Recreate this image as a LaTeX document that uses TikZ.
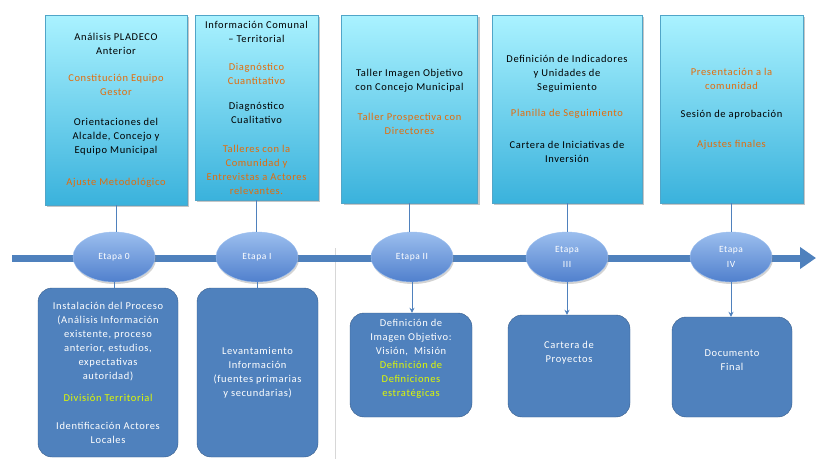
\documentclass[tikz,border=0pt]{standalone}
\usepackage{fontspec}
\setmainfont{Carlito}[LetterSpace=6]
\usetikzlibrary{arrows.meta,shapes.geometric,shadows}
\definecolor{barblue}{RGB}{79,129,189}
\definecolor{boxedge}{RGB}{56,93,138}
\definecolor{cyantop}{RGB}{170,242,255}
\definecolor{cyanbot}{RGB}{58,178,220}
\definecolor{cyanedge}{RGB}{80,165,200}
\definecolor{ovaltop}{RGB}{155,190,238}
\definecolor{ovalbot}{RGB}{80,128,205}
\definecolor{orangetxt}{RGB}{228,108,10}
\definecolor{yellowtxt}{RGB}{225,250,0}
\definecolor{sepgray}{RGB}{215,215,215}
\newcommand{\orng}[1]{\textcolor{orangetxt}{#1}}
\newcommand{\ylw}[1]{\textcolor{yellowtxt}{#1}}
\tikzset{
    task box/.style = {
        draw=cyanedge,
        top color=cyantop,
        bottom color=cyanbot,
        drop shadow={shadow xshift=2pt, shadow yshift=-2pt, opacity=0.45},
        align=center,
        inner sep=2pt,
        font=\fontsize{10.5}{14}\selectfont,
        },
    stage node/.style = {
        ellipse,
        draw=ovaltop,
        top color=ovaltop,
        bottom color=ovalbot,
        drop shadow={shadow xshift=1pt, shadow yshift=-2pt, opacity=0.35},
        minimum width=82pt,
        minimum height=50pt,
        inner sep=0pt,
        text=white,
        align=center,
        font=\fontsize{9.5}{15}\selectfont,
        },
    product box/.style = {
        rectangle,
        rounded corners=14pt,
        draw=boxedge,
        fill=barblue,
        text=white,
        align=center,
        inner sep=2pt,
        font=\fontsize{10.5}{14}\selectfont,
        },
    link/.style = {
        draw=barblue,
        line width=0.8pt,
        },
    link arrow/.style = {
        link,
        -{Stealth[length=5pt,width=5pt]},
        },
    timeline/.style = {
        draw=barblue,
        line width=7pt,
        -{Triangle[length=16pt,width=21pt]},
        },
}
\begin{document}
\begin{tikzpicture}[x=1pt,y=-1pt]
            \useasboundingbox (0,0) rectangle (816,459);

            \coordinate (sep top) at (335,248);
            \coordinate (sep bottom) at (335,459);
            \draw[sepgray] (sep top) -- (sep bottom);

            % tareas por etapa
            \node[task box, minimum width=142pt, minimum height=190pt] (a0) at (116,110)
                {Análisis PLADECO\\Anterior\\[13pt]
                 \orng{Constitución Equipo}\\\orng{Gestor}\\[16pt]
                 Orientaciones del\\Alcalde, Concejo y\\Equipo Municipal\\[18pt]
                 \orng{Ajuste Metodológico}};
            \node[task box, minimum width=123pt, minimum height=185pt] (a1) at (256.5,107.5)
                {Información Comunal\\– Territorial\\[14pt]
                 \orng{Diagnóstico}\\\orng{Cuantitativo}\\[11pt]
                 Diagnóstico\\Cualitativo\\[15pt]
                 \orng{Talleres con la}\\\orng{Comunidad y}\\\orng{Entrevistas a Actores}\\\orng{relevantes.}};
            \node[task box, minimum width=136pt, minimum height=188pt] (a2) at (409.5,109)
                {Taller Imagen Objetivo\\con Concejo Municipal\\[16pt]
                 \orng{Taller Prospectiva con}\\\orng{Directores}\\~};
            \node[task box, minimum width=150pt, minimum height=188pt] (a3) at (567,109)
                {Definición de Indicadores\\y Unidades de\\Seguimiento\\[12pt]
                 \orng{Planilla de Seguimiento}\\[18pt]
                 Cartera de Iniciativas de\\Inversión};
            \node[task box, minimum width=143pt, minimum height=188pt] (a4) at (731.5,109)
                {\orng{Presentación a la}\\\orng{comunidad}\\[14pt]
                 Sesión de aprobación\\[16pt]
                 \orng{Ajustes finales}};

            % linea de tiempo
            \coordinate (t start) at (12,258);
            \coordinate (t end) at (816,258);
            \draw[timeline] (t start) -- (t end);

            \node[stage node] (e0) at (114,257) {Etapa 0};
            \node[stage node] (e1) at (257,257) {Etapa I};
            \node[stage node] (e2) at (412,257) {Etapa II};
            \node[stage node] (e3) at (567,257) {Etapa\\III};
            \node[stage node] (e4) at (731,257) {Etapa\\IV};

            % productos
            \node[product box, minimum width=140pt, minimum height=169pt] (b0) at (108,372.5)
                {Instalación del Proceso\\(Análisis Información\\existente, proceso\\anterior, estudios,\\expectativas\\autoridad)\\[8pt]
                 \ylw{División Territorial}\\[14pt]
                 Identificación Actores\\Locales};
            \node[product box, minimum width=121pt, minimum height=169pt] (b1) at (257.5,372.5)
                {Levantamiento\\Información\\(fuentes primarias\\y secundarias)};
            \node[product box, minimum width=122pt, minimum height=104pt] (b2) at (411,365)
                {Definición de\\Imagen Objetivo:\\Visión,\ \ Misión\\
                 \ylw{Definición de}\\\ylw{Definiciones}\\\ylw{estratégicas}\\~};
            \node[product box, minimum width=122pt, minimum height=102pt] (b3) at (569,366)
                {Cartera de\\Proyectos\\~\\~};
            \node[product box, minimum width=120pt, minimum height=100pt] (b4) at (732,367)
                {Documento\\Final\\~};

            \draw[link] (a0.south) -- (a0.south |- e0.north);
            \draw[link] (a1.south) -- (a1.south |- e1.north);
            \draw[link] (a2.south) -- (a2.south |- e2.north);
            \draw[link] (a3.south) -- (a3.south |- e3.north);
            \draw[link] (a4.south) -- (a4.south |- e4.north);

            \draw[link] (e0.south) -- (e0.south |- b0.north);
            \draw[link] (e1.south) -- (e1.south |- b1.north);
            \draw[link arrow] (e2.south) -- (e2.south |- b2.north);
            \draw[link arrow] (e3.south) -- (e3.south |- b3.north);
            \draw[link arrow] (e4.south) -- (e4.south |- b4.north);
        \end{tikzpicture}
\end{document}
